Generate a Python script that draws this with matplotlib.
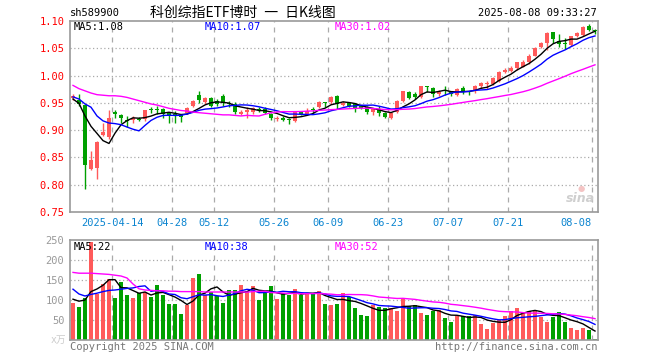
import numpy as np
import pandas as pd
import matplotlib
matplotlib.use('Agg')
import matplotlib.pyplot as plt

plt.rcParams['font.family'] = ['DejaVu Sans Mono', 'Noto Sans CJK SC']

# K线数据 (开, 收, 高, 低)
opens = [0.958, 0.956, 0.946, 0.829, 0.831, 0.891, 0.887, 0.933, 0.927, 0.919,
         0.918, 0.921, 0.920, 0.938, 0.938, 0.939, 0.932, 0.930, 0.928, 0.931,
         0.945, 0.965, 0.951, 0.959, 0.953, 0.963, 0.950, 0.948, 0.929, 0.933,
         0.934, 0.938, 0.939, 0.929, 0.921, 0.923, 0.920, 0.917, 0.933, 0.928,
         0.938, 0.942, 0.951, 0.951, 0.963, 0.946, 0.950, 0.948, 0.944, 0.942,
         0.934, 0.939, 0.932, 0.922, 0.933, 0.953, 0.969, 0.967, 0.961, 0.980,
         0.977, 0.966, 0.974, 0.969, 0.964, 0.978, 0.972, 0.971, 0.981, 0.984,
         0.984, 0.990, 1.006, 1.009, 1.013, 1.016, 1.024, 1.036, 1.052, 1.060,
         1.079, 1.064, 1.060, 1.056, 1.073, 1.075, 1.090, 1.084]
closes = [0.963, 0.948, 0.836, 0.845, 0.878, 0.897, 0.922, 0.930, 0.922, 0.916,
          0.923, 0.918, 0.936, 0.936, 0.936, 0.930, 0.926, 0.926, 0.925, 0.940,
          0.953, 0.955, 0.958, 0.945, 0.948, 0.949, 0.948, 0.933, 0.934, 0.937,
          0.940, 0.936, 0.931, 0.923, 0.923, 0.919, 0.918, 0.934, 0.929, 0.935,
          0.936, 0.951, 0.950, 0.960, 0.948, 0.950, 0.945, 0.941, 0.941, 0.934,
          0.939, 0.931, 0.925, 0.932, 0.954, 0.971, 0.959, 0.961, 0.980, 0.979,
          0.966, 0.969, 0.972, 0.967, 0.976, 0.970, 0.970, 0.981, 0.986, 0.986,
          0.995, 1.007, 1.011, 1.014, 1.024, 1.025, 1.036, 1.051, 1.059, 1.078,
          1.067, 1.058, 1.058, 1.073, 1.078, 1.089, 1.084, 1.082]
highs = [0.967, 0.966, 0.946, 0.862, 0.880, 0.913, 0.936, 0.937, 0.929, 0.926,
         0.926, 0.925, 0.937, 0.942, 0.944, 0.940, 0.934, 0.935, 0.930, 0.942,
         0.956, 0.971, 0.961, 0.960, 0.957, 0.966, 0.954, 0.951, 0.936, 0.942,
         0.942, 0.942, 0.942, 0.931, 0.926, 0.926, 0.923, 0.935, 0.934, 0.940,
         0.942, 0.954, 0.951, 0.963, 0.964, 0.953, 0.951, 0.950, 0.946, 0.944,
         0.941, 0.945, 0.934, 0.933, 0.955, 0.972, 0.972, 0.970, 0.980, 0.980,
         0.979, 0.973, 0.981, 0.972, 0.978, 0.981, 0.972, 0.983, 0.989, 0.990,
         0.998, 1.009, 1.013, 1.017, 1.025, 1.028, 1.039, 1.053, 1.061, 1.079,
         1.080, 1.076, 1.068, 1.073, 1.079, 1.090, 1.095, 1.085]
lows = [0.956, 0.945, 0.792, 0.827, 0.811, 0.889, 0.884, 0.922, 0.914, 0.905,
        0.914, 0.916, 0.917, 0.932, 0.930, 0.923, 0.914, 0.914, 0.915, 0.929,
        0.943, 0.950, 0.948, 0.942, 0.945, 0.945, 0.942, 0.929, 0.927, 0.922,
        0.929, 0.933, 0.929, 0.918, 0.917, 0.916, 0.912, 0.915, 0.927, 0.927,
        0.931, 0.940, 0.942, 0.948, 0.939, 0.944, 0.942, 0.933, 0.938, 0.929,
        0.928, 0.926, 0.923, 0.920, 0.931, 0.951, 0.957, 0.957, 0.959, 0.969,
        0.960, 0.963, 0.964, 0.962, 0.962, 0.967, 0.964, 0.968, 0.978, 0.976,
        0.982, 0.988, 1.004, 1.007, 1.011, 1.015, 1.022, 1.035, 1.050, 1.047,
        1.059, 1.053, 1.048, 1.054, 1.070, 1.073, 1.081, 1.076]

# 成交量 (万)
volumes = [93, 82, 104, 245, 114, 139, 152, 104, 145, 112,
           105, 118, 120, 107, 138, 112, 90, 90, 65, 87,
           155, 166, 112, 120, 110, 93, 125, 125, 138, 123,
           135, 101, 117, 135, 102, 117, 113, 128, 112, 115,
           117, 122, 90, 87, 90, 118, 107, 80, 62, 60,
           87, 82, 80, 81, 73, 103, 85, 87, 68, 62,
           73, 75, 55, 46, 60, 60, 60, 62, 40, 28,
           43, 50, 60, 73, 80, 71, 73, 73, 58, 46,
           58, 70, 46, 30, 25, 30, 25, 2]

# 图中最左侧均线值(窗口不足部分,从图上读取)
ma5_head = [0.957, 0.949, 0.926, 0.907]
ma10_head = [0.961, 0.957, 0.948, 0.942, 0.926, 0.917, 0.913, 0.912, 0.910]
ma30_head = [0.982, 0.976, 0.972, 0.968, 0.965, 0.964, 0.963, 0.963, 0.962, 0.960,
             0.957, 0.954, 0.951, 0.948, 0.946, 0.943, 0.940, 0.938, 0.936, 0.935,
             0.933, 0.932, 0.931, 0.930, 0.929, 0.928, 0.928, 0.927, 0.926]
vma5_head = [102, 97, 100, 121]
vma10_head = [127, 115, 110, 114, 117, 121, 124, 125, 127]
vma30_head = [169, 167, 167, 167, 166, 165, 164, 162, 160, 155,
              140, 128, 125, 124, 123, 123, 122, 122, 121, 121,
              121, 121, 120, 120, 120, 120, 120, 120, 120]

tick_pos = [7, 17, 24, 34, 43, 53, 63, 73, 87]
tick_labels = ['2025-04-14', '04-28', '05-12', '05-26', '06-09', '06-23', '07-07', '07-21', '08-08']


def moving_avg(values, n, head):
    s = pd.Series(values, dtype=float).rolling(n).mean().values
    s[:len(head)] = head
    return s


RED = '#ff5a5a'
GREEN = '#00a000'
GRID = '#aaaaaa'
FRAME = '#999999'

o = np.array(opens)
c = np.array(closes)
h = np.array(highs)
l = np.array(lows)
v = np.array(volumes)
x = np.arange(len(c))
up = c >= o
cols = np.where(up, RED, GREEN)

fig = plt.figure(figsize=(6.6, 3.6), dpi=100)
W, H = 660, 360
ax1 = fig.add_axes([70 / W, 1 - 212 / H, 528 / W, 191 / H])
ax2 = fig.add_axes([70 / W, 1 - 340 / H, 528 / W, 100 / H])

for ax in (ax1, ax2):
    ax.set_xlim(-0.5, len(c) - 0.5)
    for sp in ax.spines.values():
        sp.set_color(FRAME)
        sp.set_linewidth(1.2)
    for p in tick_pos:
        ax.axvline(p - 0.5, color=GRID, lw=0.9, ls=(0, (4, 4)), zorder=0)
    ax.set_xticks([])

# 价格面板
ax1.set_ylim(0.75, 1.10)
for yv in [0.80, 0.85, 0.90, 0.95, 1.00, 1.05]:
    ax1.axhline(yv, color=GRID, lw=0.9, ls=(0, (1, 2)), zorder=0)
ax1.set_yticks([0.75, 0.80, 0.85, 0.90, 0.95, 1.00, 1.05, 1.10])
ax1.set_yticklabels(['%.2f' % t for t in ax1.get_yticks()])
ax1.tick_params(axis='y', length=0, pad=4, labelsize=7.5, labelcolor='#ff0000')

ax1.vlines(x, l, h, colors=cols, lw=1, zorder=2)
body = np.maximum(np.abs(c - o), 0.0012)
ax1.bar(x, body, bottom=np.minimum(o, c), width=0.78, color=cols, zorder=3)

ax1.plot(x, moving_avg(c, 5, ma5_head), color='black', lw=1, zorder=4)
ax1.plot(x, moving_avg(c, 10, ma10_head), color='#0000ff', lw=1, zorder=4)
ax1.plot(x, moving_avg(c, 30, ma30_head), color='#ff00ff', lw=1, zorder=4)

for p, lab in zip(tick_pos, tick_labels):
    ha = 'right' if p == tick_pos[-1] else 'center'
    ax1.text(p - 0.5, -0.055, lab, transform=ax1.get_xaxis_transform(), ha=ha, va='center',
             fontsize=7.5, color='#0a84d0')

fig.text(74 / W, 1 - 27 / H, 'MA5:1.08', fontsize=7.5, color='black', va='center')
fig.text(205 / W, 1 - 27 / H, 'MA10:1.07', fontsize=7.5, color='#0000ff', va='center')
fig.text(335 / W, 1 - 27 / H, 'MA30:1.02', fontsize=7.5, color='#ff00ff', va='center')

fig.text(70 / W, 1 - 13 / H, 'sh589900', fontsize=7.5, color='black', va='center')
fig.text(150 / W, 1 - 13 / H, '科创综指ETF博时\u2002一\u2002日K线图', fontsize=10, color='black', va='center',
         family=['Noto Sans CJK SC', 'DejaVu Sans'])
fig.text(597 / W, 1 - 13 / H, '2025-08-08 09:33:27', fontsize=7.5, color='black', va='center', ha='right')
fig.text(595 / W, 1 - 199 / H, 'sina', fontsize=9, color='#cfcfcf', va='center', ha='right',
         style='italic', weight='bold', family=['DejaVu Sans'])
fig.text(581 / W, 1 - 189 / H, '●', fontsize=6, color='#f4c4c4', va='center', ha='center',
         family=['DejaVu Sans'])

# 成交量面板
ax2.set_ylim(0, 250)
for yv in [50, 100, 150, 200]:
    ax2.axhline(yv, color=GRID, lw=0.9, ls=(0, (1, 2)), zorder=0)
ax2.set_yticks([50, 100, 150, 200, 250])
ax2.set_yticklabels(['50', '100', '150', '200', '250'])
ax2.tick_params(axis='y', length=0, pad=4, labelsize=7.5, labelcolor='#999999')
ax2.bar(x, v, width=0.78, color=cols, zorder=2)
ax2.plot(x, moving_avg(v, 5, vma5_head), color='black', lw=1, zorder=4)
ax2.plot(x, moving_avg(v, 10, vma10_head), color='#0000ff', lw=1, zorder=4)
ax2.plot(x, moving_avg(v, 30, vma30_head), color='#ff00ff', lw=1, zorder=4)

fig.text(74 / W, 1 - 247 / H, 'MA5:22', fontsize=7.5, color='black', va='center')
fig.text(205 / W, 1 - 247 / H, 'MA10:38', fontsize=7.5, color='#0000ff', va='center')
fig.text(335 / W, 1 - 247 / H, 'MA30:52', fontsize=7.5, color='#ff00ff', va='center')
fig.text(66 / W, 1 - 340 / H, 'x万', fontsize=7, color='#cccccc', va='center', ha='right')

fig.text(70 / W, 1 - 347 / H, 'Copyright 2025 SINA.COM', fontsize=7.5, color='#777777', va='center')
fig.text(598 / W, 1 - 347 / H, 'http://finance.sina.com.cn', fontsize=7.5, color='#777777',
         va='center', ha='right')

fig.savefig('out.png', dpi=100, facecolor='white')
